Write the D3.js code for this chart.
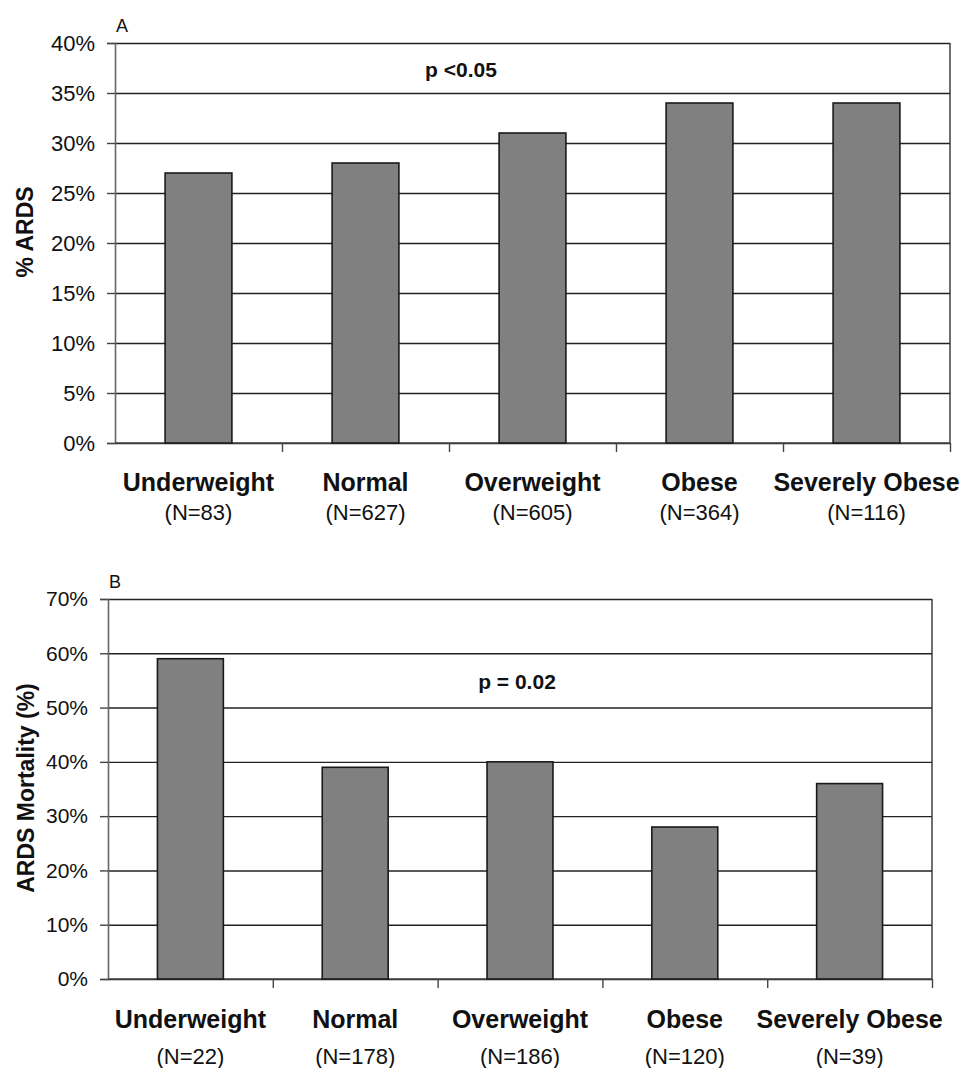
<!DOCTYPE html>
<html>
<head>
<meta charset="utf-8">
<script src="https://cdn.jsdelivr.net/npm/d3@7"></script>
<style>
  body { margin: 0; background: #fff; }
  svg text { font-family: "Liberation Sans", Arial, sans-serif; fill: #111; }
</style>
</head>
<body>
<svg id="fig" width="960" height="1068"></svg>
<script>
// data
const categories = ['Underweight', 'Normal', 'Overweight', 'Obese', 'Severely Obese'];
const ardsPct = [27, 28, 31, 34, 34];
const ardsN = [83, 627, 605, 364, 116];
const mortalityPct = [59, 39, 40, 28, 36];
const mortalityN = [22, 178, 186, 120, 39];
const ticksA = [0, 5, 10, 15, 20, 25, 30, 35, 40];
const ticksB = [0, 10, 20, 30, 40, 50, 60, 70];

class BarPanel {
    constructor(config, values, counts) {
        this.config = {
            parent: config.parent,
            left: config.left,
            right: config.right,
            top: config.top,
            bottom: config.bottom,
            ticks: config.ticks,
            letter: config.letter || '',
            ylabel: config.ylabel || '',
            ylabelX: config.ylabelX,
            ylabelY: config.ylabelY,
            ylabelSize: config.ylabelSize || 22,
            pText: config.pText || '',
            pX: config.pX,
            pY: config.pY,
            catY: config.catY,
            nY: config.nY,
            tickFont: config.tickFont || 21
        };
        this.values = values;
        this.counts = counts;
        this.init();
    }

    init() {
        let self = this;
        const c = self.config;
        self.inner_width = c.right - c.left;
        self.inner_height = c.bottom - c.top;

        self.chart = d3.select(c.parent).append('g')
            .attr('transform', `translate(${c.left}, ${c.top})`);

        self.xscale = d3.scaleBand()
            .domain(categories)
            .range([0, self.inner_width])
            .paddingInner(0.6)
            .paddingOuter(0.3);

        // category boundaries for the tick marks under the axis
        self.xbound = d3.scaleLinear()
            .domain([0, categories.length])
            .range([0, self.inner_width]);

        self.yscale = d3.scaleLinear()
            .domain([0, d3.max(c.ticks)])
            .range([self.inner_height, 0]);
    }

    render() {
        let self = this;
        const c = self.config;

        // gridlines
        self.chart.append('g')
            .call(d3.axisLeft(self.yscale).tickValues(c.ticks).tickSize(-self.inner_width).tickFormat(''))
            .call(g => g.select('.domain').remove())
            .selectAll('line')
            .attr('stroke', '#222')
            .attr('stroke-width', 1.4);

        // right border
        self.chart.append('line')
            .attr('x1', self.inner_width).attr('x2', self.inner_width)
            .attr('y1', 0).attr('y2', self.inner_height)
            .attr('stroke', '#333').attr('stroke-width', 1.4);

        // y axis
        const yg = self.chart.append('g')
            .call(d3.axisLeft(self.yscale).tickValues(c.ticks).tickSize(8).tickPadding(12).tickFormat(d => d + '%'));
        yg.select('.domain').attr('stroke', '#666').attr('stroke-width', 1.6);
        yg.selectAll('line').attr('stroke', '#444').attr('stroke-width', 1.4);
        yg.selectAll('text')
            .style('font-size', c.tickFont + 'px')
            .attr('fill', '#111');

        // x axis with boundary ticks
        const xg = self.chart.append('g')
            .attr('transform', `translate(0, ${self.inner_height})`)
            .call(d3.axisBottom(self.xbound).tickValues(d3.range(1, categories.length + 1)).tickSize(9).tickFormat(''));
        xg.select('.domain').remove();
        xg.selectAll('line').attr('stroke', '#444').attr('stroke-width', 1.4);
        self.chart.append('line')
            .attr('x1', 0).attr('x2', self.inner_width)
            .attr('y1', self.inner_height).attr('y2', self.inner_height)
            .attr('stroke', '#444').attr('stroke-width', 1.6);

        // bars
        self.chart.append('g')
            .selectAll('rect')
            .data(self.values)
            .join('rect')
            .attr('x', (d, i) => self.xscale(categories[i]))
            .attr('y', d => self.yscale(d))
            .attr('width', self.xscale.bandwidth())
            .attr('height', d => self.inner_height - self.yscale(d))
            .attr('fill', '#808080')
            .attr('stroke', '#1a1a1a')
            .attr('stroke-width', 1.6);

        // category labels
        const cx = (d, i) => self.xscale(categories[i]) + self.xscale.bandwidth() / 2;
        self.chart.append('g')
            .selectAll('text')
            .data(categories)
            .join('text')
            .attr('x', cx)
            .attr('y', c.catY - c.top)
            .attr('text-anchor', 'middle')
            .style('font-size', '25px')
            .style('font-weight', 'bold')
            .text(d => d);

        self.chart.append('g')
            .selectAll('text')
            .data(self.counts)
            .join('text')
            .attr('x', cx)
            .attr('y', c.nY - c.top)
            .attr('text-anchor', 'middle')
            .style('font-size', '22px')
            .text(d => `(N=${d})`);

        // panel letter
        self.chart.append('text')
            .attr('x', 1)
            .attr('y', -11)
            .style('font-size', '18px')
            .text(c.letter);

        // p value
        self.chart.append('text')
            .attr('x', c.pX - c.left)
            .attr('y', c.pY - c.top)
            .attr('text-anchor', 'middle')
            .style('font-size', '21px')
            .style('font-weight', 'bold')
            .text(c.pText);

        // y label
        self.chart.append('text')
            .attr('transform', `rotate(-90)`)
            .attr('x', -(c.ylabelY - c.top))
            .attr('y', c.ylabelX - c.left)
            .attr('text-anchor', 'middle')
            .style('font-size', c.ylabelSize + 'px')
            .style('font-weight', 'bold')
            .text(c.ylabel);
    }
}

const panelA = new BarPanel({
    parent: '#fig',
    left: 115, right: 950, top: 43, bottom: 443,
    ticks: ticksA,
    letter: 'A',
    ylabel: '% ARDS',
    ylabelX: 33, ylabelY: 232, ylabelSize: 23,
    pText: 'p <0.05',
    pX: 461, pY: 77,
    catY: 491, nY: 520,
    tickFont: 22
}, ardsPct, ardsN);
panelA.render();

const panelB = new BarPanel({
    parent: '#fig',
    left: 108, right: 932, top: 599, bottom: 979,
    ticks: ticksB,
    letter: 'B',
    ylabel: 'ARDS Mortality (%)',
    ylabelX: 34, ylabelY: 788, ylabelSize: 23,
    pText: 'p = 0.02',
    pX: 517, pY: 689,
    catY: 1028, nY: 1064,
    tickFont: 21
}, mortalityPct, mortalityN);
panelB.render();
</script>
</body>
</html>
